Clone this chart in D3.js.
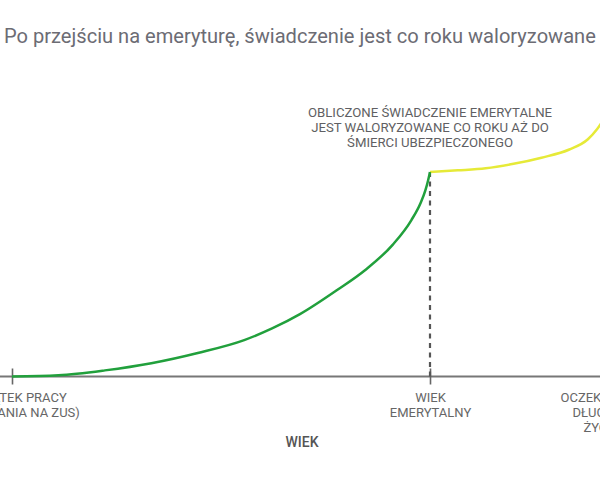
<!DOCTYPE html>
<html>
<head>
<meta charset="utf-8">
<script src="https://cdn.jsdelivr.net/npm/d3@7"></script>
<style>
  html, body { margin: 0; padding: 0; background: #fff; overflow: hidden; }
  svg { display: block; font-family: Roboto, "Noto Sans", sans-serif; }
</style>
</head>
<body>
<div id="chart"></div>
<script>
// contributions phase: age -> accumulated value
const workAges = [20, 25, 30, 35, 40, 45, 48, 51, 55, 58, 61, 63, 64, 64.5, 64.8, 65];
const workValues = [0, 0.6, 3, 6.5, 11.5, 17.8, 23.5, 30.5, 42.3, 52, 64.5, 76.5, 85, 91, 96, 100];

// pension phase: indexed every year
const pensionAges = [65, 68, 71, 74, 77, 80, 82, 83, 84];
const pensionValues = [100, 100.8, 101.8, 104, 107, 111, 116, 121, 128];

const tickAges = [20, 65, 83.4];
const tickLabels = [
    ['POCZĄTEK PRACY', '(ZGŁASZANIA NA ZUS)'],
    ['WIEK', 'EMERYTALNY'],
    ['OCZEKIWANA', 'DŁUGOŚĆ', 'ŻYCIA']
];
const retirementAge = 65;

const titleText = 'Po przejściu na emeryturę, świadczenie jest co roku waloryzowane';
const noteLines = [
    'OBLICZONE ŚWIADCZENIE EMERYTALNE',
    'JEST WALORYZOWANE CO ROKU AŻ DO',
    'ŚMIERCI UBEZPIECZONEGO'
];
const xTitle = 'WIEK';

const width = 600;
const height = 480;

const svg = d3.select('#chart')
    .append('svg')
    .attr('width', width)
    .attr('height', height);

const x = d3.scaleLinear().domain([20, 65]).range([12, 430]);
const y = d3.scaleLinear().domain([0, 100]).range([376.5, 172]);

// title, squeezed to fit the window width
const title = svg.append('text')
    .attr('x', 4)
    .attr('y', 43)
    .attr('fill', '#6c6c74')
    .style('font-size', '20px')
    .text(titleText);
const tw = title.node().getComputedTextLength();
title.style('font-size', (20 * 592 / tw).toFixed(2) + 'px');

// axis line across the whole width
svg.append('line')
    .attr('x1', 0).attr('x2', width)
    .attr('y1', y(0)).attr('y2', y(0))
    .attr('stroke', '#777')
    .attr('stroke-width', 2);

const axis = svg.append('g')
    .attr('transform', `translate(0, ${y(0)})`)
    .call(d3.axisBottom(x).tickValues(tickAges).tickSize(8).tickFormat(''));
axis.select('.domain').remove();
axis.selectAll('.tick line')
    .attr('y1', -8)
    .attr('y2', 8)
    .attr('stroke', '#666')
    .attr('stroke-width', 1.6);

axis.selectAll('.tick text').remove();
axis.selectAll('.tick')
    .append('text')
    .attr('fill', '#666')
    .attr('text-anchor', 'middle')
    .style('font-size', '13px')
    .style('font-family', 'Roboto, sans-serif')
    .selectAll('tspan')
    .data((d, i) => tickLabels[i])
    .join('tspan')
    .attr('x', 0)
    .attr('y', (d, i) => 25.5 + i * 15)
    .text((d) => d);

svg.append('text')
    .attr('x', 302)
    .attr('y', 447)
    .attr('text-anchor', 'middle')
    .attr('fill', '#555')
    .style('font-size', '14px')
    .style('font-weight', 500)
    .text(xTitle);

// dashed drop line at retirement
svg.append('line')
    .attr('x1', x(retirementAge)).attr('x2', x(retirementAge))
    .attr('y1', y(100)).attr('y2', y(0))
    .attr('stroke', '#555')
    .attr('stroke-width', 2.2)
    .attr('stroke-dasharray', '5,4.5');

const line = d3.line()
    .x((d) => x(d[0]))
    .y((d) => y(d[1]))
    .curve(d3.curveMonotoneX);

svg.append('path')
    .datum(d3.zip(pensionAges, pensionValues))
    .attr('d', line)
    .attr('fill', 'none')
    .attr('stroke', '#e6ea38')
    .attr('stroke-width', 2.5);

svg.append('path')
    .datum(d3.zip(workAges, workValues))
    .attr('d', line)
    .attr('fill', 'none')
    .attr('stroke', '#21a03c')
    .attr('stroke-width', 2.5);

// annotation
svg.append('text')
    .attr('fill', '#5f5f63')
    .attr('text-anchor', 'middle')
    .style('font-size', '13.2px')
    .selectAll('tspan')
    .data(noteLines)
    .join('tspan')
    .attr('x', 430)
    .attr('y', (d, i) => 117 + i * 15)
    .text((d) => d);
</script>
</body>
</html>
